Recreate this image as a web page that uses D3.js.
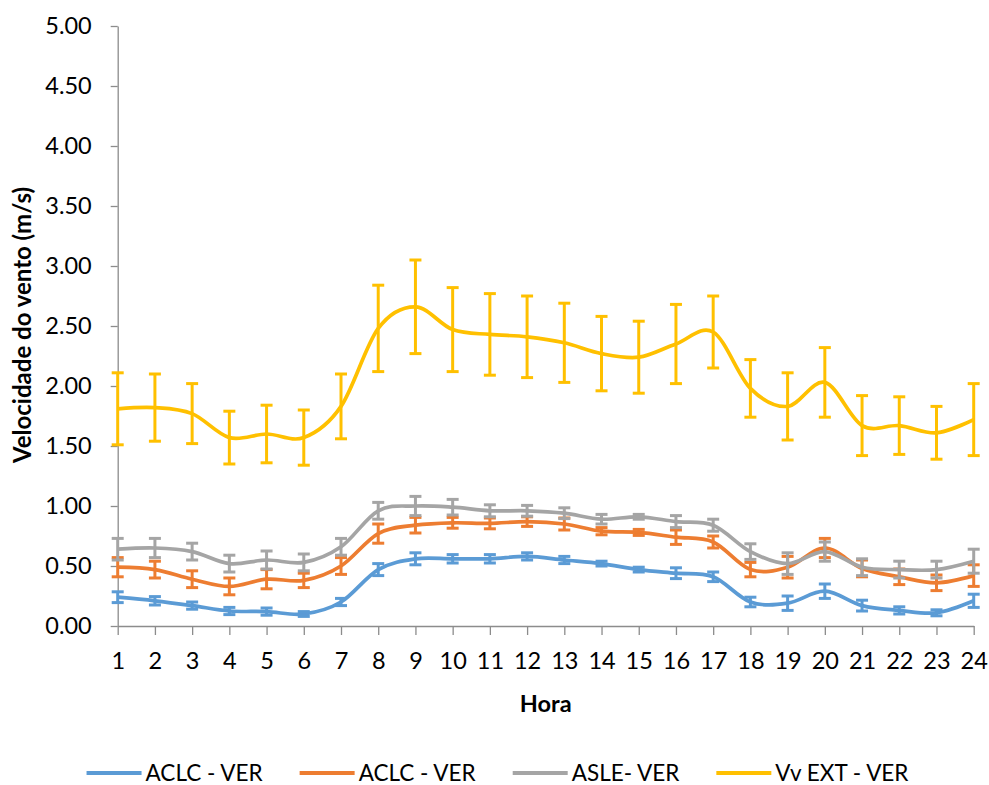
<!DOCTYPE html>
<html>
<head>
<meta charset="utf-8">
<script src="https://cdn.jsdelivr.net/npm/d3@7"></script>
<style>
  html, body { margin: 0; padding: 0; background: #fff; }
  svg { display: block; }
  text { font-family: Lato, "Open Sans", sans-serif; }
</style>
</head>
<body>
<svg id="chart" width="989" height="785"></svg>
<script>
// Hour of day (category axis)
const hours = ["1","2","3","4","5","6","7","8","9","10","11","12","13","14","15","16","17","18","19","20","21","22","23","24"];

// Mean wind speed (m/s) per hour, with error bar half-widths
const aclcBlue      = [0.24,0.21,0.17,0.125,0.12,0.10,0.20,0.47,0.56,0.56,0.56,0.58,0.55,0.52,0.47,0.44,0.41,0.20,0.19,0.29,0.17,0.13,0.11,0.21];
const aclcBlueErr   = [0.045,0.035,0.03,0.03,0.03,0.02,0.03,0.05,0.05,0.035,0.035,0.03,0.03,0.02,0.02,0.045,0.04,0.04,0.06,0.06,0.045,0.03,0.025,0.055];
const aclcOrange    = [0.49,0.47,0.39,0.33,0.39,0.38,0.50,0.77,0.84,0.86,0.855,0.87,0.85,0.79,0.78,0.74,0.70,0.47,0.49,0.65,0.48,0.41,0.36,0.42];
const aclcOrangeErr = [0.08,0.07,0.07,0.07,0.08,0.06,0.07,0.08,0.065,0.045,0.045,0.04,0.05,0.03,0.025,0.06,0.05,0.06,0.09,0.08,0.07,0.065,0.065,0.09];
const asle          = [0.64,0.65,0.62,0.52,0.55,0.53,0.66,0.96,1.00,0.99,0.96,0.96,0.94,0.89,0.91,0.87,0.84,0.62,0.52,0.62,0.49,0.47,0.47,0.54];
const asleErr       = [0.09,0.08,0.07,0.07,0.075,0.07,0.07,0.07,0.08,0.065,0.05,0.045,0.045,0.04,0.02,0.05,0.05,0.065,0.09,0.08,0.07,0.07,0.07,0.10];
const vvExt         = [1.81,1.82,1.77,1.57,1.60,1.57,1.83,2.48,2.66,2.47,2.43,2.41,2.36,2.27,2.24,2.35,2.45,1.98,1.83,2.03,1.67,1.67,1.61,1.72];
const vvExtErr      = [0.30,0.28,0.25,0.22,0.24,0.23,0.27,0.36,0.39,0.35,0.34,0.34,0.33,0.31,0.30,0.33,0.30,0.24,0.28,0.29,0.25,0.24,0.22,0.30];

const seriesNames  = ["ACLC - VER", "ACLC - VER", "ASLE- VER", "Vv EXT - VER"];
const seriesColors = ["#5B9BD5", "#ED7D31", "#A5A5A5", "#FFC000"];
const yTicks = [0, 0.5, 1, 1.5, 2, 2.5, 3, 3.5, 4, 4.5, 5];

const series = [
  { name: seriesNames[0], color: seriesColors[0], values: aclcBlue,   errors: aclcBlueErr },
  { name: seriesNames[1], color: seriesColors[1], values: aclcOrange, errors: aclcOrangeErr },
  { name: seriesNames[2], color: seriesColors[2], values: asle,       errors: asleErr },
  { name: seriesNames[3], color: seriesColors[3], values: vvExt,      errors: vvExtErr }
];

const svg = d3.select("#chart");
const plot = { left: 117.7, right: 973.7, top: 26, bottom: 626 };
const axisColor = "#8C8C8C";
const tickFont = 23.5;

const x = d3.scalePoint().domain(hours).range([plot.left, plot.right]);
const y = d3.scaleLinear().domain([0, 5]).range([plot.bottom, plot.top]);

// Y axis
const yAxis = svg.append("g")
  .attr("transform", `translate(${plot.left},0)`)
  .call(d3.axisLeft(y).tickValues(yTicks).tickFormat(d3.format(".2f"))
    .tickSize(7).tickSizeOuter(0).tickPadding(19));
yAxis.select(".domain").attr("stroke", axisColor).attr("stroke-width", 1.3);
yAxis.selectAll(".tick line").attr("stroke", axisColor).attr("stroke-width", 1.3);
yAxis.selectAll(".tick text").attr("font-size", tickFont).attr("fill", "#000")
  .attr("font-family", "Lato, sans-serif");

// X axis
const xAxis = svg.append("g")
  .attr("transform", `translate(0,${plot.bottom})`)
  .call(d3.axisBottom(x).tickSize(9).tickSizeOuter(0).tickPadding(17));
xAxis.select(".domain").attr("stroke", axisColor).attr("stroke-width", 1.3);
xAxis.selectAll(".tick line").attr("stroke", axisColor).attr("stroke-width", 1.3);
xAxis.selectAll(".tick text").attr("font-size", tickFont).attr("fill", "#000")
  .attr("font-family", "Lato, sans-serif");

// Axis titles
svg.append("text")
  .attr("x", (plot.left + plot.right) / 2)
  .attr("y", 712)
  .attr("text-anchor", "middle")
  .attr("font-size", 23.5).attr("font-weight", "bold").attr("fill", "#000")
  .text("Hora");

svg.append("text")
  .attr("transform", `translate(31,${325}) rotate(-90)`)
  .attr("text-anchor", "middle")
  .attr("font-size", 24).attr("font-weight", "bold").attr("fill", "#000")
  .text("Velocidade do vento (m/s)");

// Smoothed lines with error bars, drawn series by series
const line = d3.line()
  .x((d, i) => x(hours[i]))
  .y(d => y(d))
  .curve(d3.curveCardinal.tension(0));

const capHalf = 6;
series.forEach(s => {
  const g = svg.append("g");
  g.append("path")
    .datum(s.values)
    .attr("d", line)
    .attr("fill", "none")
    .attr("stroke", s.color)
    .attr("stroke-width", 3.7)
    .attr("stroke-linejoin", "round");

  const bars = g.selectAll(".err")
    .data(s.values.map((v, i) => ({ h: hours[i], v, e: s.errors[i] })))
    .join("g");
  bars.append("line")
    .attr("x1", d => x(d.h)).attr("x2", d => x(d.h))
    .attr("y1", d => y(d.v + d.e)).attr("y2", d => y(d.v - d.e))
    .attr("stroke", s.color).attr("stroke-width", 3);
  bars.append("line")
    .attr("x1", d => x(d.h) - capHalf).attr("x2", d => x(d.h) + capHalf)
    .attr("y1", d => y(d.v + d.e)).attr("y2", d => y(d.v + d.e))
    .attr("stroke", s.color).attr("stroke-width", 3);
  bars.append("line")
    .attr("x1", d => x(d.h) - capHalf).attr("x2", d => x(d.h) + capHalf)
    .attr("y1", d => y(d.v - d.e)).attr("y2", d => y(d.v - d.e))
    .attr("stroke", s.color).attr("stroke-width", 3);
});

// Legend, centred below the chart
const legend = svg.append("g");
const legendY = 773;
const swatch = 55, swatchGap = 4, itemGap = 37;
let cursor = 0;
series.forEach(s => {
  const item = legend.append("g").attr("transform", `translate(${cursor},0)`);
  item.append("line")
    .attr("x1", 0).attr("x2", swatch)
    .attr("y1", legendY).attr("y2", legendY)
    .attr("stroke", s.color).attr("stroke-width", 4);
  const t = item.append("text")
    .attr("x", swatch + swatchGap)
    .attr("y", legendY)
    .attr("dy", "0.35em")
    .attr("font-size", 22.5).attr("fill", "#000")
    .text(s.name);
  cursor += swatch + swatchGap + t.node().getComputedTextLength() + itemGap;
});
const legendWidth = cursor - itemGap;
legend.attr("transform", `translate(${(989 - legendWidth) / 2 + 3},0)`);
</script>
</body>
</html>
